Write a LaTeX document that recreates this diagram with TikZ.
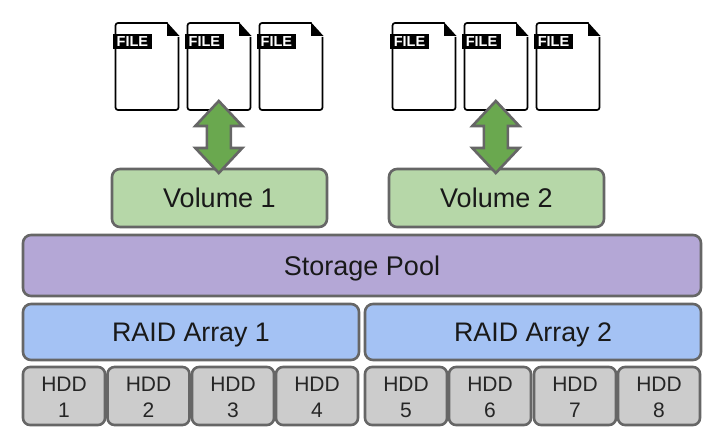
\documentclass[tikz,border=0pt]{standalone}
\usepackage{fontspec}
\setmainfont{Liberation Sans}
\tikzset{
  block/.style={draw=bordergray,line width=2.6pt,rounded corners=8pt,anchor=north west,inner sep=0pt,outer sep=0pt,text=black!90},
  vol/.style={block,fill=volgreen,font=\fontsize{27}{30}\selectfont,text height=19.5pt,text depth=0pt},
  pool/.style={block,fill=poolpurple,font=\fontsize{27}{30}\selectfont,text height=19pt,text depth=0pt},
  raid/.style={block,fill=raidblue,font=\fontsize{26.8}{30}\selectfont,text height=19.5pt,text depth=0pt},
  hdd/.style={block,align=center,fill=hddgray,rounded corners=7pt,font=\fontsize{21}{26.5}\selectfont,text=black!85},
  filebody/.style={draw=black,line width=1.7pt,fill=white,rounded corners=2.5pt},
  filetag/.style={fill=black,text=white,inner sep=0pt,outer sep=0pt,font=\bfseries\fontsize{14.5}{14.5}\selectfont,anchor=north west,minimum width=39.5pt,minimum height=15pt},
  updown/.style={draw=bordergray,line width=2.6pt,fill=arrowgreen,line join=miter,miter limit=10}
}
\definecolor{bordergray}{HTML}{666666}
\definecolor{volgreen}{HTML}{B6D7A8}
\definecolor{poolpurple}{HTML}{B4A7D6}
\definecolor{raidblue}{HTML}{A4C2F4}
\definecolor{hddgray}{HTML}{CCCCCC}
\definecolor{arrowgreen}{HTML}{6AA84F}
\newcommand{\filedoc}[2]{%
  \fill[white] (#1,23) rectangle ++(63,87);
  \draw[filebody] (#1+52,23) -- (#1,23) -- (#1,110) -- (#1+63,110) -- (#1+63,37);
  \fill[black] (#1+51.5,22.2) -- (#1+64,36) -- (#1+51.5,36) -- cycle;
  \node[filetag] (#2) at (#1-2.8,34.5) {\raisebox{-0.6pt}{FILE}};
}
\newcommand{\biarrow}[3]{%
  \coordinate (#2) at (#1,101);
  \coordinate (#3) at (#1,173);
  \draw[updown] (#2) -- (#1+23.5,126) -- (#1+12,126) -- (#1+12,148) -- (#1+23.5,148)
     -- (#3) -- (#1-23.5,148) -- (#1-12,148) -- (#1-12,126) -- (#1-23.5,126) -- cycle;
}
\newcommand{\hddtext}[1]{\rule{0pt}{17pt}HDD\\#1}
\begin{document}
\begin{tikzpicture}[x=1pt,y=-1pt]
\useasboundingbox (0,0) rectangle (727,444);
\filedoc{115.5}{fa}
\filedoc{187.5}{fb}
\filedoc{259.5}{fc}
\filedoc{392.5}{fd}
\filedoc{464.5}{fe}
\filedoc{536.5}{ff}
\node[vol,minimum width=215pt,minimum height=58pt] (v1) at (112,169) {Volume 1};
\node[vol,minimum width=215pt,minimum height=58pt] (v2) at (389,169) {Volume 2};
\biarrow{218.8}{a1t}{a1b}
\biarrow{495.8}{a2t}{a2b}
\node[pool,minimum width=678pt,minimum height=61pt] (sp) at (23,235) {Storage Pool};
\node[raid,minimum width=336pt,minimum height=56pt] (r1) at (23,304) {RAID Array 1};
\node[raid,minimum width=336pt,minimum height=56pt] (r2) at (365,304) {RAID Array 2};
\node[hdd,minimum width=82pt,minimum height=58pt] (h1) at (23,367) {\hddtext{1}};
\node[hdd,minimum width=82pt,minimum height=58pt] (h2) at (107.5,367) {\hddtext{2}};
\node[hdd,minimum width=82pt,minimum height=58pt] (h3) at (192,367) {\hddtext{3}};
\node[hdd,minimum width=82pt,minimum height=58pt] (h4) at (276,367) {\hddtext{4}};
\node[hdd,minimum width=82pt,minimum height=58pt] (h5) at (365,367) {\hddtext{5}};
\node[hdd,minimum width=82pt,minimum height=58pt] (h6) at (449,367) {\hddtext{6}};
\node[hdd,minimum width=82pt,minimum height=58pt] (h7) at (534,367) {\hddtext{7}};
\node[hdd,minimum width=82pt,minimum height=58pt] (h8) at (618,367) {\hddtext{8}};
\end{tikzpicture}
\end{document}
